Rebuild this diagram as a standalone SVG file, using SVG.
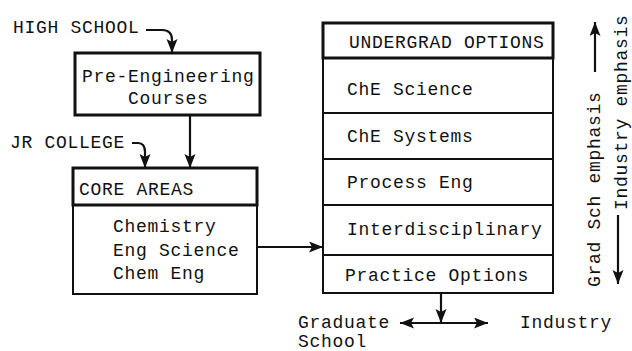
<svg xmlns="http://www.w3.org/2000/svg" width="632" height="351" viewBox="0 0 632 351">
<style>
text{font-family:"Liberation Mono","DejaVu Sans Mono",monospace;font-size:18px;letter-spacing:0.7px;fill:#111}
.box{fill:#fff;stroke:#111;stroke-width:2}
.thick{fill:none;stroke:#111;stroke-width:3}
.thin{fill:none;stroke:#111;stroke-width:1.8}
.conn{fill:none;stroke:#111;stroke-width:2.2}
</style>
<defs>
<marker id="ah" markerUnits="userSpaceOnUse" markerWidth="16" markerHeight="12" refX="14" refY="5.5" orient="auto">
<path d="M0,0 L14,5.5 L0,11 L3,5.5 z" fill="#111"/>
</marker>
<marker id="ahs" markerUnits="userSpaceOnUse" markerWidth="16" markerHeight="12" refX="14" refY="5.5" orient="auto-start-reverse">
<path d="M0,0 L14,5.5 L0,11 L3,5.5 z" fill="#111"/>
</marker>
</defs>
<rect width="632" height="351" fill="#fff"/>

<g id="high-school"><text x="13" y="33">HIGH SCHOOL</text></g>
<g id="jr-college"><text x="10" y="148">JR COLLEGE</text></g>

<g id="pre-engineering">
<rect x="75" y="53" width="185" height="62" class="thick" fill="#fff"/>
<text x="82" y="82">Pre-Engineering</text>
<text x="128" y="104">Courses</text>
</g>

<g id="core-areas">
<rect x="73" y="168" width="184" height="126" class="box"/>
<rect x="73" y="168" width="184" height="37" class="thick"/>
<text x="79" y="195">CORE AREAS</text>
<text x="113" y="232">Chemistry</text>
<text x="113" y="256">Eng Science</text>
<text x="113" y="279">Chem Eng</text>
</g>

<g id="undergrad-options">
<rect x="323" y="23" width="230" height="270" class="box"/>
<rect x="323" y="23" width="230" height="35" class="thick"/>
<line x1="323" y1="113" x2="553" y2="113" class="thin"/>
<line x1="323" y1="159" x2="553" y2="159" class="thin"/>
<line x1="323" y1="205" x2="553" y2="205" class="thin"/>
<line x1="323" y1="255" x2="553" y2="255" class="thin"/>
<text x="349" y="48">UNDERGRAD OPTIONS</text>
<text x="347" y="95">ChE Science</text>
<text x="347" y="142">ChE Systems</text>
<text x="347" y="188">Process Eng</text>
<text x="347" y="235">Interdisciplinary</text>
<text x="345" y="281">Practice Options</text>
</g>

<g id="graduate-school"><text x="298" y="328">Graduate</text><text x="298" y="347">School</text></g>
<g id="industry"><text x="520" y="328">Industry</text></g>

<g id="emphasis">
<text transform="translate(600,287) rotate(-90)">Grad Sch emphasis</text>
<text transform="translate(627,210) rotate(-90)">Industry emphasis</text>
</g>

<g id="connectors">
<path d="M146,30 L162,30 Q172,30 172,40 L172,53" class="conn" marker-end="url(#ah)"/>
<path d="M132,143 L138,143 Q145,143 145,152 L145,168" class="conn" marker-end="url(#ah)"/>
<path d="M190,115 L190,168" class="conn" marker-end="url(#ah)"/>
<path d="M257,247 L323,247" class="conn" marker-end="url(#ah)"/>
<path d="M441,293 L441,323" class="conn" marker-end="url(#ah)"/>
<path d="M400,323 L488,323" class="conn" marker-start="url(#ahs)" marker-end="url(#ah)"/>
<path d="M595,72 L595,22" class="conn" marker-end="url(#ah)"/>
<path d="M618,215 L618,284" class="conn" marker-end="url(#ah)"/>
</g>
</svg>
